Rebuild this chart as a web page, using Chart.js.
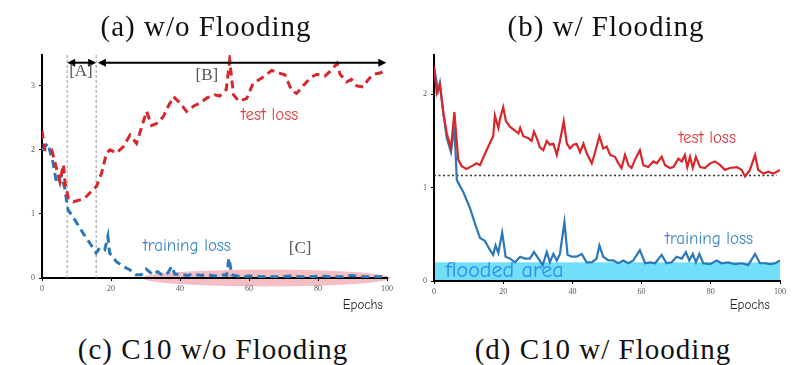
<!DOCTYPE html>
<html>
<head>
<meta charset="utf-8">
<script src="https://cdn.jsdelivr.net/npm/chart.js@4.4.1/dist/chart.umd.min.js"></script>
<style>
  body { margin: 0; background: #fff; width: 798px; height: 365px; overflow: hidden; position: relative; font-family: "Liberation Serif", "Times New Roman", serif; }
  .cap { position: absolute; font-size: 29px; line-height: 29px; letter-spacing: 1px; color: #111; white-space: nowrap; transform: translateX(-50%); }
  .box { position: absolute; top: 40px; height: 280px; }
</style>
</head>
<body>
<div class="box" style="left:0;width:400px"><canvas id="woChart" width="400" height="280"></canvas></div>
<div class="box" style="left:400px;width:398px"><canvas id="wChart" width="398" height="280"></canvas></div>
<div class="cap" style="left:206px;top:12px">(a) w/o Flooding</div>
<div class="cap" style="left:606px;top:12px">(b) w/ Flooding</div>
<div class="cap" style="left:213px;top:335px">(c) C10 w/o Flooding</div>
<div class="cap" style="left:603px;top:335px">(d) C10 w/ Flooding</div>
<script>
const woTestEp = [0, 0.8, 2.8, 4.3, 5.2, 6.2, 6.7, 7.6, 9.1, 11, 12.5, 13.9, 15.8, 17.3, 18.7, 19.7, 21.6, 23.6, 25.5, 27.4, 28.9, 30.3, 31.8, 33.2, 35.2, 36.1, 38.1, 40, 41.9, 43.9, 45.8, 47.8, 50, 51.5, 53.4, 54.4, 55.5, 57, 59.3, 61.2, 63.7, 66.6, 68.5, 70.4, 72.4, 73.8, 75.7, 77.7, 79.6, 82, 84, 85.5, 86.4, 88.3, 89.7, 91.2, 93.1, 94.6, 96.1, 98, 100];
const woTestLoss = [2.3, 2.0, 2.0, 1.69, 1.5, 1.77, 1.48, 1.25, 1.19, 1.22, 1.25, 1.33, 1.43, 1.64, 1.95, 2.0, 1.95, 2.05, 2.23, 2.1, 2.36, 2.6, 2.38, 2.41, 2.52, 2.63, 2.83, 2.73, 2.6, 2.68, 2.73, 2.81, 2.86, 2.84, 2.94, 3.4, 2.86, 2.76, 2.8, 3.04, 3.12, 3.24, 3.2, 3.17, 2.92, 2.88, 3.0, 3.12, 3.18, 3.15, 3.25, 3.35, 3.18, 3.06, 3.1, 3.0, 2.98, 3.1, 3.18, 3.2, 3.25];
const woTrainEp = [0, 1.7, 3.2, 4.2, 5.6, 6.6, 7.5, 9.5, 11.9, 13.8, 15.7, 16.7, 18.2, 19.1, 19.6, 21.5, 23.5, 25.4, 27.3, 28.8, 30.2, 32.2, 33.5, 35, 36.5, 37.6, 38.5, 40, 42, 44, 46, 48, 50, 52, 53.5, 54.2, 55, 56.5, 58, 60, 63, 66, 69, 72, 75, 78, 81, 84, 87, 90, 92, 94, 97, 100];
const woTrainLoss = [2.0, 2.1, 1.8, 1.48, 1.6, 1.4, 1.07, 0.91, 0.7, 0.55, 0.39, 0.47, 0.44, 0.65, 0.39, 0.26, 0.18, 0.13, 0.05, 0.05, 0.14, 0.05, 0.1, 0.04, 0.08, 0.18, 0.06, 0.06, 0.04, 0.06, 0.04, 0.05, 0.03, 0.05, 0.04, 0.31, 0.05, 0.03, 0.02, 0.03, 0.02, 0.02, 0.02, 0.03, 0.02, 0.02, 0.03, 0.02, 0.02, 0.04, 0.02, 0.02, 0.02, 0.02];

const wTestEp = [0, 0.8, 1.7, 2.7, 3.7, 4.9, 5.9, 7, 8, 9.4, 10.9, 12.3, 13.3, 14.7, 16.2, 17.1, 17.6, 18.6, 19.1, 20, 20.8, 22, 23.4, 24.4, 24.9, 25.8, 27.3, 28.2, 28.9, 29.7, 30.6, 31.6, 32.6, 33.5, 34.5, 35.5, 36.4, 37.5, 38.4, 39.3, 40.3, 41.2, 42.2, 43.2, 44.1, 45.6, 46.5, 47.8, 48.9, 49.9, 50.9, 52.3, 53.3, 54.2, 55.2, 56.2, 57.1, 58.1, 59.5, 60.5, 61.9, 63.4, 64.4, 65.8, 66.8, 68.2, 69.2, 70.6, 71.6, 72.5, 73.2, 74, 74.8, 75.7, 76.9, 78.3, 79.8, 81.2, 82.7, 84.1, 85.5, 87.5, 88.9, 89.9, 91.3, 92.8, 93.7, 95.2, 96.6, 98.1, 100];
const wTestLoss = [2.3, 2.01, 2.1, 1.8, 1.58, 1.42, 1.81, 1.3, 1.23, 1.2, 1.23, 1.26, 1.24, 1.36, 1.48, 1.55, 1.77, 1.64, 1.74, 1.86, 1.71, 1.65, 1.61, 1.58, 1.64, 1.55, 1.53, 1.5, 1.6, 1.53, 1.43, 1.4, 1.5, 1.46, 1.47, 1.35, 1.5, 1.71, 1.47, 1.42, 1.46, 1.47, 1.38, 1.47, 1.37, 1.26, 1.37, 1.55, 1.42, 1.44, 1.35, 1.33, 1.26, 1.21, 1.35, 1.24, 1.21, 1.3, 1.4, 1.24, 1.22, 1.28, 1.26, 1.33, 1.24, 1.21, 1.22, 1.31, 1.28, 1.35, 1.22, 1.33, 1.21, 1.33, 1.22, 1.21, 1.26, 1.28, 1.24, 1.19, 1.21, 1.22, 1.19, 1.12, 1.19, 1.35, 1.19, 1.15, 1.17, 1.15, 1.19];
const wTrainEp = [0, 1.2, 1.7, 2.7, 3.7, 4.9, 5.9, 6.6, 8.5, 10.4, 11.8, 13.3, 14.7, 16.2, 17.1, 17.8, 18.6, 19.7, 20.7, 22, 23.4, 24.9, 26.3, 27.7, 28.9, 30.2, 31.4, 32.6, 33.5, 34.5, 35.5, 36.4, 37.7, 38.6, 39.8, 41.2, 42.7, 44.1, 45.6, 47, 47.8, 48.9, 50.4, 51.8, 53.3, 54.7, 56.2, 57.6, 59.5, 61, 62.4, 63.9, 65.8, 67.2, 68.7, 70.1, 71.6, 72.8, 73.8, 74.8, 75.7, 76.7, 77.8, 79.8, 81.7, 83.1, 85, 87, 88.9, 90.8, 92.8, 94.2, 95.7, 97.1, 98.6, 100];
const wTrainLoss = [2.29, 2.04, 2.12, 1.8, 1.53, 1.38, 1.65, 1.08, 0.95, 0.78, 0.62, 0.46, 0.43, 0.33, 0.28, 0.38, 0.3, 0.52, 0.26, 0.24, 0.2, 0.26, 0.24, 0.24, 0.31, 0.24, 0.17, 0.31, 0.2, 0.29, 0.22, 0.29, 0.63, 0.28, 0.26, 0.26, 0.29, 0.2, 0.2, 0.24, 0.38, 0.26, 0.22, 0.22, 0.19, 0.22, 0.19, 0.22, 0.33, 0.19, 0.2, 0.19, 0.28, 0.19, 0.2, 0.26, 0.24, 0.31, 0.22, 0.29, 0.2, 0.29, 0.19, 0.18, 0.22, 0.19, 0.2, 0.18, 0.19, 0.17, 0.29, 0.19, 0.19, 0.18, 0.19, 0.22];

const xTicks = [0, 20, 40, 60, 80, 100];
const woYTicks = [0, 1, 2, 3];
const wYTicks = [0, 1, 2];
const phaseBounds = [7.3, 15.7];   // [A] / [B] Grenzen
const floodLevel = 1.13;
const floodedTop = 0.2;

const RED = "#d9262b", BLUE = "#2a78b8";
const COMIC = '"Comic Sans MS", "Comic Neue", "DejaVu Sans", sans-serif';
const SERIF = '"Liberation Serif", "Times New Roman", serif';

const pts = (xs, ys) => xs.map((x, i) => ({ x, y: ys[i] }));

// Zusatzzeichnungen: Ellipse, Flut-Bereich, Hilfslinien, Pfeile, Beschriftungen
const extras = {
  id: "extras",
  beforeDraw(chart, args, o) {
    const { ctx, scales: { x, y } } = chart;
    ctx.save();
    (o.ellipses || []).forEach((e) => {
      const cx = x.getPixelForValue((e.x0 + e.x1) / 2), rx = (x.getPixelForValue(e.x1) - x.getPixelForValue(e.x0)) / 2;
      const cy = y.getPixelForValue(e.y), ry = y.getPixelForValue(0) - y.getPixelForValue(e.ry);
      ctx.fillStyle = e.color;
      ctx.beginPath();
      ctx.ellipse(cx, cy, rx, ry, 0, 0, Math.PI * 2);
      ctx.fill();
    });
    (o.rects || []).forEach((r) => {
      const x0 = x.getPixelForValue(r.x0), x1 = x.getPixelForValue(r.x1);
      const y0 = y.getPixelForValue(r.y0), y1 = y.getPixelForValue(r.y1);
      ctx.fillStyle = r.color;
      ctx.fillRect(x0, y1, x1 - x0, y0 - y1);
    });
    ctx.restore();
  },
  beforeDatasetsDraw(chart, args, o) {
    const { ctx, chartArea, scales: { x, y } } = chart;
    ctx.save();
    (o.vlines || []).forEach((v) => {
      const px = x.getPixelForValue(v.x);
      ctx.strokeStyle = v.color; ctx.lineWidth = v.width; ctx.setLineDash(v.dash);
      ctx.beginPath(); ctx.moveTo(px, y.getPixelForValue(0)); ctx.lineTo(px, chartArea.top); ctx.stroke();
    });
    (o.hlines || []).forEach((h) => {
      const py = y.getPixelForValue(h.y);
      ctx.strokeStyle = h.color; ctx.lineWidth = h.width; ctx.setLineDash(h.dash);
      ctx.beginPath(); ctx.moveTo(x.getPixelForValue(h.x0), py); ctx.lineTo(x.getPixelForValue(h.x1), py); ctx.stroke();
    });
    ctx.restore();
  },
  afterDatasetsDraw(chart, args, o) {
    const { ctx, chartArea, scales: { x, y } } = chart;
    ctx.save();
    ctx.setLineDash([]);
    (o.arrows || []).forEach((a) => {
      const x0 = x.getPixelForValue(a.x0), x1 = x.getPixelForValue(a.x1), py = y.getPixelForValue(a.y);
      const h = 7;
      ctx.strokeStyle = "#000"; ctx.fillStyle = "#000"; ctx.lineWidth = 2;
      ctx.beginPath(); ctx.moveTo(x0 + h, py); ctx.lineTo(x1 - h, py); ctx.stroke();
      ctx.beginPath(); ctx.moveTo(x0, py); ctx.lineTo(x0 + h + 1, py - 4); ctx.lineTo(x0 + h + 1, py + 4); ctx.closePath(); ctx.fill();
      ctx.beginPath(); ctx.moveTo(x1, py); ctx.lineTo(x1 - h - 1, py - 4); ctx.lineTo(x1 - h - 1, py + 4); ctx.closePath(); ctx.fill();
    });
    (o.texts || []).forEach((t) => {
      ctx.font = t.font; ctx.fillStyle = t.color;
      ctx.textAlign = "center"; ctx.textBaseline = "middle";
      ctx.fillText(t.text, x.getPixelForValue(t.x), y.getPixelForValue(t.y));
    });
    if (o.xLabel) {
      ctx.font = "13px " + COMIC; ctx.fillStyle = "#222";
      ctx.textAlign = "right"; ctx.textBaseline = "middle";
      ctx.fillText(o.xLabel.text, chartArea.right - o.xLabel.dx, chartArea.bottom + o.xLabel.dy);
    }
    ctx.restore();
  },
};

function axes(yMax, yTicks, yWidth, xHeight) {
  const tickFont = { family: SERIF, size: 8 };
  return {
    x: {
      type: "linear", min: 0, max: 100,
      afterBuildTicks: (s) => { s.ticks = xTicks.map((v) => ({ value: v })); },
      afterFit: (s) => { s.height = xHeight; },
      grid: { drawOnChartArea: false, drawTicks: true, tickLength: 3, color: "#000" },
      border: { color: "#000", width: 2 },
      ticks: { font: tickFont, color: "#555", padding: 3, maxRotation: 0 },
    },
    y: {
      min: 0, max: yMax,
      afterBuildTicks: (s) => { s.ticks = yTicks.map((v) => ({ value: v })); },
      afterFit: (s) => { s.width = yWidth; },
      grid: { drawOnChartArea: false, drawTicks: true, tickLength: 3, color: "#000" },
      border: { color: "#000", width: 2 },
      ticks: { font: tickFont, color: "#555", padding: 4 },
    },
  };
}

const common = { animation: false, responsive: false, events: [] };

new Chart(document.getElementById("woChart"), {
  type: "line",
  data: {
    datasets: [
      { data: pts(woTestEp, woTestLoss), borderColor: RED, borderWidth: 3, borderDash: [8, 5], pointRadius: 0 },
      { data: pts(woTrainEp, woTrainLoss), borderColor: BLUE, borderWidth: 3, borderDash: [8, 5], pointRadius: 0 },
    ],
  },
  options: {
    ...common,
    layout: { padding: { left: 0, right: 13, top: 15, bottom: 0 } },
    scales: axes(3.48, woYTicks, 42, 42),
    plugins: {
      legend: { display: false }, tooltip: { enabled: false },
      extras: {
        ellipses: [{ x0: 29, x1: 101, y: 0, ry: 0.13, color: "rgba(236,125,138,0.5)" }],
        vlines: phaseBounds.map((b) => ({ x: b, color: "#9a9a9a", width: 1, dash: [3, 2] })),
        arrows: [{ x0: phaseBounds[0], x1: phaseBounds[1], y: 3.36 }, { x0: phaseBounds[1] + 0.5, x1: 99.8, y: 3.36 }],
        texts: [
          { text: "[A]", x: 11.3, y: 3.22, font: "17px " + SERIF, color: "#555" },
          { text: "[B]", x: 47.8, y: 3.16, font: "17px " + SERIF, color: "#555" },
          { text: "[C]", x: 74.8, y: 0.46, font: "17px " + SERIF, color: "#555" },
          { text: "test loss", x: 66, y: 2.54, font: "17px " + COMIC, color: "#e0393e" },
          { text: "training loss", x: 42, y: 0.49, font: "17px " + COMIC, color: "#3a86c6" },
        ],
        xLabel: { text: "Epochs", dx: 4, dy: 27 },
      },
    },
  },
  plugins: [extras],
});

new Chart(document.getElementById("wChart"), {
  type: "line",
  data: {
    datasets: [
      { data: pts(wTestEp, wTestLoss), borderColor: RED, borderWidth: 2.2, pointRadius: 0 },
      { data: pts(wTrainEp, wTrainLoss), borderColor: BLUE, borderWidth: 2.2, pointRadius: 0 },
    ],
  },
  options: {
    ...common,
    layout: { padding: { left: 0, right: 18, top: 15, bottom: 0 } },
    scales: axes(2.42, wYTicks, 34, 39),
    plugins: {
      legend: { display: false }, tooltip: { enabled: false },
      extras: {
        rects: [{ x0: 0, x1: 100, y0: 0, y1: floodedTop, color: "#72dffa" }],
        hlines: [{ y: floodLevel, x0: 0, x1: 99, color: "#333", width: 1.6, dash: [2, 2.5] }],
        texts: [
          { text: "test loss", x: 79, y: 1.53, font: "17px " + COMIC, color: "#e0393e" },
          { text: "training loss", x: 79.5, y: 0.45, font: "17px " + COMIC, color: "#3a86c6" },
          { text: "flooded area", x: 20.4, y: 0.105, font: "22px " + COMIC, color: "#2a8cf0" },
        ],
        xLabel: { text: "Epochs", dx: 10, dy: 24 },
      },
    },
  },
  plugins: [extras],
});
</script>
</body>
</html>
